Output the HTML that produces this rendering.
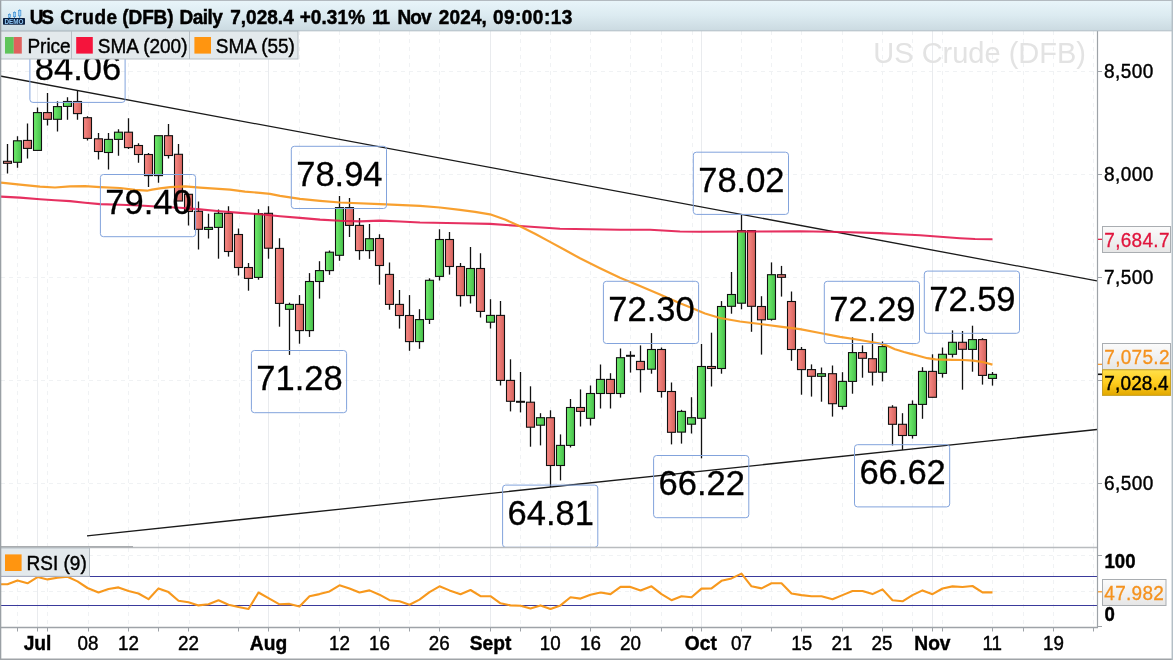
<!DOCTYPE html>
<html lang="en"><head><meta charset="utf-8"><title>US Crude (DFB) Daily</title>
<style>html,body{margin:0;padding:0;background:#fff;overflow:hidden}svg{display:block}</style></head>
<body>
<svg width="1173" height="660" viewBox="0 0 1173 660" font-family='"Liberation Sans", sans-serif'>
<defs>
<linearGradient id="tb" x1="0" y1="0" x2="0" y2="1"><stop offset="0" stop-color="#e9f5fa"/><stop offset="0.5" stop-color="#dcebf1"/><stop offset="1" stop-color="#cbdae1"/></linearGradient>
<linearGradient id="gg" x1="0" y1="0" x2="1" y2="0"><stop offset="0" stop-color="#70ee6c"/><stop offset="1" stop-color="#46bf4b"/></linearGradient>
<linearGradient id="rg" x1="0" y1="0" x2="1" y2="0"><stop offset="0" stop-color="#fa8a86"/><stop offset="1" stop-color="#d4625c"/></linearGradient>
<linearGradient id="gold" x1="0" y1="0" x2="0" y2="1"><stop offset="0" stop-color="#ffe04a"/><stop offset="0.5" stop-color="#ffcd1e"/><stop offset="1" stop-color="#e2a800"/></linearGradient>
<linearGradient id="lb" x1="0" y1="0" x2="0" y2="1"><stop offset="0" stop-color="#fbfbfb"/><stop offset="1" stop-color="#e6e6e6"/></linearGradient>
<clipPath id="main"><rect x="0" y="31" width="1097" height="516.5"/></clipPath>
<clipPath id="rsi"><rect x="0" y="548" width="1097" height="79"/></clipPath>
</defs>
<rect width="1173" height="660" fill="#ffffff"/>
<g stroke="#f0f2f4" stroke-width="1" stroke-dasharray="4 4" fill="none">
<path d="M1 71.5H1097"/>
<path d="M1 174.5H1097"/>
<path d="M1 277.5H1097"/>
<path d="M1 380.5H1097"/>
<path d="M1 483.5H1097"/>
<path d="M17.5 31V547"/><path d="M17.5 548V627"/>
<path d="M47.5 31V547"/><path d="M47.5 548V627"/>
<path d="M692.5 31V547"/><path d="M692.5 548V627"/>
<path d="M1093.5 31V547"/><path d="M1093.5 548V627"/>
<path d="M88.5 31V547"/><path d="M88.5 548V627"/>
<path d="M128.5 31V547"/><path d="M128.5 548V627"/>
<path d="M158.5 31V547"/><path d="M158.5 548V627"/>
<path d="M189.5 31V547"/><path d="M189.5 548V627"/>
<path d="M239.5 31V547"/><path d="M239.5 548V627"/>
<path d="M299.5 31V547"/><path d="M299.5 548V627"/>
<path d="M339.5 31V547"/><path d="M339.5 548V627"/>
<path d="M379.5 31V547"/><path d="M379.5 548V627"/>
<path d="M409.5 31V547"/><path d="M409.5 548V627"/>
<path d="M439.5 31V547"/><path d="M439.5 548V627"/>
<path d="M520.5 31V547"/><path d="M520.5 548V627"/>
<path d="M550.5 31V547"/><path d="M550.5 548V627"/>
<path d="M590.5 31V547"/><path d="M590.5 548V627"/>
<path d="M630.5 31V547"/><path d="M630.5 548V627"/>
<path d="M661.5 31V547"/><path d="M661.5 548V627"/>
<path d="M741.5 31V547"/><path d="M741.5 548V627"/>
<path d="M771.5 31V547"/><path d="M771.5 548V627"/>
<path d="M801.5 31V547"/><path d="M801.5 548V627"/>
<path d="M842.5 31V547"/><path d="M842.5 548V627"/>
<path d="M882.5 31V547"/><path d="M882.5 548V627"/>
<path d="M912.5 31V547"/><path d="M912.5 548V627"/>
<path d="M942.5 31V547"/><path d="M942.5 548V627"/>
<path d="M992.5 31V547"/><path d="M992.5 548V627"/>
<path d="M1023.5 31V547"/><path d="M1023.5 548V627"/>
<path d="M1053.5 31V547"/><path d="M1053.5 548V627"/>
<path d="M1 555.5H1097"/><path d="M1 591.5H1097"/>
</g>
<g stroke="#e9ebee" stroke-width="1" fill="none">
<path d="M37.5 31V547"/><path d="M37.5 548V627"/>
<path d="M268.5 31V547"/><path d="M268.5 548V627"/>
<path d="M490.5 31V547"/><path d="M490.5 548V627"/>
<path d="M701.5 31V547"/><path d="M701.5 548V627"/>
<path d="M932.5 31V547"/><path d="M932.5 548V627"/>
</g>
<text x="1086" y="62.5" font-size="29" fill="#e3e3e3" text-anchor="end">US Crude (DFB)</text>
<g clip-path="url(#main)">
<path d="M0 76L1097 280.8" stroke="#1a1a1a" stroke-width="1.3" fill="none"/>
<path d="M87 535.8L1097 429.5" stroke="#1a1a1a" stroke-width="1.3" fill="none"/>
<path d="M7.5 143.9V173.6" stroke="#111" stroke-width="1.3"/>
<rect x="3.5" y="161.3" width="8" height="2.0" fill="url(#rg)" stroke="#111" stroke-width="1.1"/>
<path d="M17.5 136.3V167.8" stroke="#111" stroke-width="1.3"/>
<rect x="13.5" y="140.8" width="8" height="21.5" fill="url(#gg)" stroke="#111" stroke-width="1.1"/>
<path d="M27.5 123.4V158.6" stroke="#111" stroke-width="1.3"/>
<rect x="23.5" y="140.4" width="8" height="8.0" fill="url(#rg)" stroke="#111" stroke-width="1.1"/>
<path d="M37.5 107.5V150.4" stroke="#111" stroke-width="1.3"/>
<rect x="33.5" y="112.6" width="8" height="37.8" fill="url(#gg)" stroke="#111" stroke-width="1.1"/>
<path d="M47.5 93.1V125.5" stroke="#111" stroke-width="1.3"/>
<rect x="43.5" y="112.6" width="8" height="6.7" fill="url(#rg)" stroke="#111" stroke-width="1.1"/>
<path d="M57.5 101.3V131.6" stroke="#111" stroke-width="1.3"/>
<rect x="53.5" y="106.6" width="8" height="12.7" fill="url(#gg)" stroke="#111" stroke-width="1.1"/>
<path d="M67.5 97.2V119.7" stroke="#111" stroke-width="1.3"/>
<rect x="63.5" y="101.5" width="8" height="4.9" fill="url(#gg)" stroke="#111" stroke-width="1.1"/>
<path d="M77.5 90.7V119.7" stroke="#111" stroke-width="1.3"/>
<rect x="73.5" y="101.5" width="8" height="12.1" fill="url(#rg)" stroke="#111" stroke-width="1.1"/>
<path d="M87.5 116.3V140.4" stroke="#111" stroke-width="1.3"/>
<rect x="83.5" y="117.7" width="8" height="20.7" fill="url(#rg)" stroke="#111" stroke-width="1.1"/>
<path d="M98.5 133.0V159.6" stroke="#111" stroke-width="1.3"/>
<rect x="94.5" y="138.8" width="8" height="12.7" fill="url(#rg)" stroke="#111" stroke-width="1.1"/>
<path d="M108.5 133.0V169.5" stroke="#111" stroke-width="1.3"/>
<rect x="104.5" y="139.4" width="8" height="13.1" fill="url(#gg)" stroke="#111" stroke-width="1.1"/>
<path d="M118.5 129.2V155.8" stroke="#111" stroke-width="1.3"/>
<rect x="114.5" y="132.2" width="8" height="7.2" fill="url(#gg)" stroke="#111" stroke-width="1.1"/>
<path d="M128.5 118.3V149.0" stroke="#111" stroke-width="1.3"/>
<rect x="124.5" y="132.2" width="8" height="15.4" fill="url(#rg)" stroke="#111" stroke-width="1.1"/>
<path d="M138.5 143.3V162.7" stroke="#111" stroke-width="1.3"/>
<rect x="134.5" y="145.5" width="8" height="9.0" fill="url(#rg)" stroke="#111" stroke-width="1.1"/>
<path d="M148.5 153.1V186.9" stroke="#111" stroke-width="1.3"/>
<rect x="144.5" y="154.5" width="8" height="21.1" fill="url(#rg)" stroke="#111" stroke-width="1.1"/>
<path d="M158.5 135.7V182.8" stroke="#111" stroke-width="1.3"/>
<rect x="154.5" y="135.7" width="8" height="39.9" fill="url(#gg)" stroke="#111" stroke-width="1.1"/>
<path d="M168.5 124.0V158.6" stroke="#111" stroke-width="1.3"/>
<rect x="164.5" y="135.7" width="8" height="19.8" fill="url(#rg)" stroke="#111" stroke-width="1.1"/>
<path d="M178.5 143.9V201.0" stroke="#111" stroke-width="1.3"/>
<rect x="174.5" y="154.3" width="8" height="46.7" fill="url(#rg)" stroke="#111" stroke-width="1.1"/>
<path d="M188.5 194.3V225.4" stroke="#111" stroke-width="1.3"/>
<rect x="184.5" y="194.3" width="8" height="17.2" fill="url(#rg)" stroke="#111" stroke-width="1.1"/>
<path d="M198.5 201.4V249.5" stroke="#111" stroke-width="1.3"/>
<rect x="194.5" y="211.3" width="8" height="18.0" fill="url(#rg)" stroke="#111" stroke-width="1.1"/>
<path d="M208.5 213.7V238.5" stroke="#111" stroke-width="1.3"/>
<rect x="204.5" y="227.4" width="8" height="2.0" fill="url(#gg)" stroke="#111" stroke-width="1.1"/>
<path d="M218.5 209.6V258.7" stroke="#111" stroke-width="1.3"/>
<rect x="214.5" y="213.3" width="8" height="14.1" fill="url(#gg)" stroke="#111" stroke-width="1.1"/>
<path d="M228.5 206.3V256.6" stroke="#111" stroke-width="1.3"/>
<rect x="224.5" y="213.3" width="8" height="38.2" fill="url(#rg)" stroke="#111" stroke-width="1.1"/>
<path d="M238.5 228.4V275.5" stroke="#111" stroke-width="1.3"/>
<rect x="234.5" y="234.5" width="8" height="33.0" fill="url(#rg)" stroke="#111" stroke-width="1.1"/>
<path d="M248.5 263.0V290.7" stroke="#111" stroke-width="1.3"/>
<rect x="244.5" y="267.5" width="8" height="10.9" fill="url(#rg)" stroke="#111" stroke-width="1.1"/>
<path d="M258.5 209.2V279.7" stroke="#111" stroke-width="1.3"/>
<rect x="254.5" y="213.7" width="8" height="63.7" fill="url(#gg)" stroke="#111" stroke-width="1.1"/>
<path d="M268.5 206.3V258.7" stroke="#111" stroke-width="1.3"/>
<rect x="264.5" y="213.3" width="8" height="34.9" fill="url(#rg)" stroke="#111" stroke-width="1.1"/>
<path d="M279.5 238.2V326.7" stroke="#111" stroke-width="1.3"/>
<rect x="275.5" y="248.4" width="8" height="55.0" fill="url(#rg)" stroke="#111" stroke-width="1.1"/>
<path d="M289.5 302.7V354.9" stroke="#111" stroke-width="1.3"/>
<rect x="285.5" y="304.4" width="8" height="4.9" fill="url(#gg)" stroke="#111" stroke-width="1.1"/>
<path d="M299.5 295.1V343.7" stroke="#111" stroke-width="1.3"/>
<rect x="295.5" y="304.4" width="8" height="26.2" fill="url(#rg)" stroke="#111" stroke-width="1.1"/>
<path d="M309.5 273.1V336.9" stroke="#111" stroke-width="1.3"/>
<rect x="305.5" y="281.5" width="8" height="49.1" fill="url(#gg)" stroke="#111" stroke-width="1.1"/>
<path d="M319.5 261.2V298.6" stroke="#111" stroke-width="1.3"/>
<rect x="315.5" y="270.6" width="8" height="10.9" fill="url(#gg)" stroke="#111" stroke-width="1.1"/>
<path d="M329.5 250.6V274.8" stroke="#111" stroke-width="1.3"/>
<rect x="325.5" y="252.2" width="8" height="18.4" fill="url(#gg)" stroke="#111" stroke-width="1.1"/>
<path d="M339.5 196.0V260.8" stroke="#111" stroke-width="1.3"/>
<rect x="335.5" y="207.6" width="8" height="47.7" fill="url(#gg)" stroke="#111" stroke-width="1.1"/>
<path d="M349.5 198.0V236.9" stroke="#111" stroke-width="1.3"/>
<rect x="345.5" y="207.6" width="8" height="17.8" fill="url(#rg)" stroke="#111" stroke-width="1.1"/>
<path d="M359.5 217.9V259.8" stroke="#111" stroke-width="1.3"/>
<rect x="355.5" y="225.4" width="8" height="25.2" fill="url(#rg)" stroke="#111" stroke-width="1.1"/>
<path d="M369.5 224.0V258.8" stroke="#111" stroke-width="1.3"/>
<rect x="365.5" y="238.7" width="8" height="11.9" fill="url(#gg)" stroke="#111" stroke-width="1.1"/>
<path d="M379.5 234.2V284.7" stroke="#111" stroke-width="1.3"/>
<rect x="375.5" y="238.5" width="8" height="27.0" fill="url(#rg)" stroke="#111" stroke-width="1.1"/>
<path d="M389.5 262.5V309.7" stroke="#111" stroke-width="1.3"/>
<rect x="385.5" y="274.4" width="8" height="30.0" fill="url(#rg)" stroke="#111" stroke-width="1.1"/>
<path d="M399.5 290.0V328.6" stroke="#111" stroke-width="1.3"/>
<rect x="395.5" y="304.4" width="8" height="11.1" fill="url(#rg)" stroke="#111" stroke-width="1.1"/>
<path d="M409.5 295.1V350.8" stroke="#111" stroke-width="1.3"/>
<rect x="405.5" y="315.5" width="8" height="26.1" fill="url(#rg)" stroke="#111" stroke-width="1.1"/>
<path d="M419.5 309.2V348.8" stroke="#111" stroke-width="1.3"/>
<rect x="415.5" y="319.6" width="8" height="22.0" fill="url(#gg)" stroke="#111" stroke-width="1.1"/>
<path d="M429.5 278.3V324.0" stroke="#111" stroke-width="1.3"/>
<rect x="425.5" y="280.3" width="8" height="39.1" fill="url(#gg)" stroke="#111" stroke-width="1.1"/>
<path d="M439.5 229.3V280.5" stroke="#111" stroke-width="1.3"/>
<rect x="435.5" y="239.5" width="8" height="36.9" fill="url(#gg)" stroke="#111" stroke-width="1.1"/>
<path d="M449.5 232.1V274.6" stroke="#111" stroke-width="1.3"/>
<rect x="445.5" y="239.5" width="8" height="27.0" fill="url(#rg)" stroke="#111" stroke-width="1.1"/>
<path d="M460.5 263.0V306.6" stroke="#111" stroke-width="1.3"/>
<rect x="456.5" y="266.5" width="8" height="29.1" fill="url(#rg)" stroke="#111" stroke-width="1.1"/>
<path d="M470.5 247.1V303.5" stroke="#111" stroke-width="1.3"/>
<rect x="466.5" y="268.5" width="8" height="27.1" fill="url(#gg)" stroke="#111" stroke-width="1.1"/>
<path d="M480.5 253.2V317.5" stroke="#111" stroke-width="1.3"/>
<rect x="476.5" y="268.5" width="8" height="42.9" fill="url(#rg)" stroke="#111" stroke-width="1.1"/>
<path d="M490.5 299.2V328.5" stroke="#111" stroke-width="1.3"/>
<rect x="486.5" y="315.4" width="8" height="6.8" fill="url(#gg)" stroke="#111" stroke-width="1.1"/>
<path d="M500.5 301.0V385.5" stroke="#111" stroke-width="1.3"/>
<rect x="496.5" y="315.4" width="8" height="65.0" fill="url(#rg)" stroke="#111" stroke-width="1.1"/>
<path d="M510.5 359.3V411.4" stroke="#111" stroke-width="1.3"/>
<rect x="506.5" y="380.4" width="8" height="20.9" fill="url(#rg)" stroke="#111" stroke-width="1.1"/>
<path d="M520.5 372.0V412.4" stroke="#111" stroke-width="1.3"/>
<path d="M516.0 401.8H525.0" stroke="#111" stroke-width="2"/>
<path d="M530.5 386.3V446.7" stroke="#111" stroke-width="1.3"/>
<rect x="526.5" y="402.2" width="8" height="25.0" fill="url(#rg)" stroke="#111" stroke-width="1.1"/>
<path d="M540.5 413.2V445.4" stroke="#111" stroke-width="1.3"/>
<rect x="536.5" y="417.7" width="8" height="7.5" fill="url(#gg)" stroke="#111" stroke-width="1.1"/>
<path d="M550.5 410.3V487.0" stroke="#111" stroke-width="1.3"/>
<rect x="546.5" y="417.7" width="8" height="47.8" fill="url(#rg)" stroke="#111" stroke-width="1.1"/>
<path d="M560.5 434.4V480.4" stroke="#111" stroke-width="1.3"/>
<rect x="556.5" y="445.4" width="8" height="20.1" fill="url(#gg)" stroke="#111" stroke-width="1.1"/>
<path d="M570.5 399.0V447.5" stroke="#111" stroke-width="1.3"/>
<rect x="566.5" y="407.5" width="8" height="37.9" fill="url(#gg)" stroke="#111" stroke-width="1.1"/>
<path d="M580.5 389.4V426.5" stroke="#111" stroke-width="1.3"/>
<rect x="576.5" y="407.5" width="8" height="3.9" fill="url(#rg)" stroke="#111" stroke-width="1.1"/>
<path d="M590.5 385.5V425.5" stroke="#111" stroke-width="1.3"/>
<rect x="586.5" y="393.5" width="8" height="24.8" fill="url(#gg)" stroke="#111" stroke-width="1.1"/>
<path d="M600.5 364.5V408.5" stroke="#111" stroke-width="1.3"/>
<rect x="596.5" y="379.4" width="8" height="14.1" fill="url(#gg)" stroke="#111" stroke-width="1.1"/>
<path d="M610.5 373.2V408.5" stroke="#111" stroke-width="1.3"/>
<rect x="606.5" y="379.4" width="8" height="14.1" fill="url(#rg)" stroke="#111" stroke-width="1.1"/>
<path d="M620.5 348.5V397.6" stroke="#111" stroke-width="1.3"/>
<rect x="616.5" y="357.7" width="8" height="35.8" fill="url(#gg)" stroke="#111" stroke-width="1.1"/>
<path d="M630.5 351.2V372.6" stroke="#111" stroke-width="1.3"/>
<path d="M626.0 355.8H635.0" stroke="#111" stroke-width="2"/>
<path d="M640.5 345.4V392.5" stroke="#111" stroke-width="1.3"/>
<rect x="636.5" y="361.4" width="8" height="8.2" fill="url(#rg)" stroke="#111" stroke-width="1.1"/>
<path d="M651.5 333.1V373.7" stroke="#111" stroke-width="1.3"/>
<rect x="647.5" y="349.5" width="8" height="19.7" fill="url(#gg)" stroke="#111" stroke-width="1.1"/>
<path d="M661.5 347.5V397.6" stroke="#111" stroke-width="1.3"/>
<rect x="657.5" y="349.5" width="8" height="42.0" fill="url(#rg)" stroke="#111" stroke-width="1.1"/>
<path d="M671.5 382.5V444.4" stroke="#111" stroke-width="1.3"/>
<rect x="667.5" y="391.5" width="8" height="40.8" fill="url(#rg)" stroke="#111" stroke-width="1.1"/>
<path d="M681.5 409.8V443.6" stroke="#111" stroke-width="1.3"/>
<rect x="677.5" y="411.4" width="8" height="20.7" fill="url(#gg)" stroke="#111" stroke-width="1.1"/>
<path d="M691.5 397.2V433.5" stroke="#111" stroke-width="1.3"/>
<rect x="687.5" y="417.7" width="8" height="6.5" fill="url(#gg)" stroke="#111" stroke-width="1.1"/>
<path d="M701.5 344.0V458.3" stroke="#111" stroke-width="1.3"/>
<rect x="697.5" y="366.5" width="8" height="51.8" fill="url(#gg)" stroke="#111" stroke-width="1.1"/>
<path d="M711.5 332.7V386.5" stroke="#111" stroke-width="1.3"/>
<rect x="707.5" y="366.5" width="8" height="2.0" fill="url(#rg)" stroke="#111" stroke-width="1.1"/>
<path d="M721.5 301.1V373.7" stroke="#111" stroke-width="1.3"/>
<rect x="717.5" y="306.5" width="8" height="62.0" fill="url(#gg)" stroke="#111" stroke-width="1.1"/>
<path d="M731.5 272.0V313.7" stroke="#111" stroke-width="1.3"/>
<rect x="727.5" y="294.5" width="8" height="11.8" fill="url(#gg)" stroke="#111" stroke-width="1.1"/>
<path d="M741.5 214.7V309.3" stroke="#111" stroke-width="1.3"/>
<rect x="737.5" y="230.7" width="8" height="72.5" fill="url(#gg)" stroke="#111" stroke-width="1.1"/>
<path d="M751.5 230.7V331.8" stroke="#111" stroke-width="1.3"/>
<rect x="747.5" y="230.7" width="8" height="75.6" fill="url(#rg)" stroke="#111" stroke-width="1.1"/>
<path d="M761.5 296.2V354.6" stroke="#111" stroke-width="1.3"/>
<rect x="757.5" y="306.5" width="8" height="13.3" fill="url(#rg)" stroke="#111" stroke-width="1.1"/>
<path d="M771.5 262.4V320.7" stroke="#111" stroke-width="1.3"/>
<rect x="767.5" y="274.7" width="8" height="44.6" fill="url(#gg)" stroke="#111" stroke-width="1.1"/>
<path d="M781.5 265.9V296.6" stroke="#111" stroke-width="1.3"/>
<rect x="777.5" y="274.7" width="8" height="2.6" fill="url(#rg)" stroke="#111" stroke-width="1.1"/>
<path d="M791.5 291.5V360.8" stroke="#111" stroke-width="1.3"/>
<rect x="787.5" y="301.5" width="8" height="48.0" fill="url(#rg)" stroke="#111" stroke-width="1.1"/>
<path d="M801.5 347.0V394.7" stroke="#111" stroke-width="1.3"/>
<rect x="797.5" y="349.5" width="8" height="20.1" fill="url(#rg)" stroke="#111" stroke-width="1.1"/>
<path d="M811.5 364.4V396.6" stroke="#111" stroke-width="1.3"/>
<rect x="807.5" y="369.6" width="8" height="6.7" fill="url(#rg)" stroke="#111" stroke-width="1.1"/>
<path d="M821.5 367.5V401.7" stroke="#111" stroke-width="1.3"/>
<rect x="817.5" y="373.7" width="8" height="2.6" fill="url(#gg)" stroke="#111" stroke-width="1.1"/>
<path d="M832.5 365.5V416.6" stroke="#111" stroke-width="1.3"/>
<rect x="828.5" y="373.7" width="8" height="30.0" fill="url(#rg)" stroke="#111" stroke-width="1.1"/>
<path d="M842.5 372.2V409.5" stroke="#111" stroke-width="1.3"/>
<rect x="838.5" y="381.4" width="8" height="25.0" fill="url(#gg)" stroke="#111" stroke-width="1.1"/>
<path d="M852.5 337.4V393.7" stroke="#111" stroke-width="1.3"/>
<rect x="848.5" y="352.6" width="8" height="28.8" fill="url(#gg)" stroke="#111" stroke-width="1.1"/>
<path d="M862.5 345.4V377.7" stroke="#111" stroke-width="1.3"/>
<rect x="858.5" y="352.6" width="8" height="5.7" fill="url(#rg)" stroke="#111" stroke-width="1.1"/>
<path d="M872.5 333.1V385.5" stroke="#111" stroke-width="1.3"/>
<rect x="868.5" y="358.7" width="8" height="13.5" fill="url(#rg)" stroke="#111" stroke-width="1.1"/>
<path d="M882.5 341.5V381.4" stroke="#111" stroke-width="1.3"/>
<rect x="878.5" y="346.6" width="8" height="25.6" fill="url(#gg)" stroke="#111" stroke-width="1.1"/>
<path d="M892.5 405.2V445.4" stroke="#111" stroke-width="1.3"/>
<rect x="888.5" y="407.2" width="8" height="17.1" fill="url(#rg)" stroke="#111" stroke-width="1.1"/>
<path d="M902.5 413.2V449.9" stroke="#111" stroke-width="1.3"/>
<rect x="898.5" y="424.3" width="8" height="11.2" fill="url(#rg)" stroke="#111" stroke-width="1.1"/>
<path d="M912.5 400.4V438.6" stroke="#111" stroke-width="1.3"/>
<rect x="908.5" y="404.4" width="8" height="31.1" fill="url(#gg)" stroke="#111" stroke-width="1.1"/>
<path d="M922.5 367.2V418.8" stroke="#111" stroke-width="1.3"/>
<rect x="918.5" y="371.4" width="8" height="33.0" fill="url(#gg)" stroke="#111" stroke-width="1.1"/>
<path d="M932.5 354.3V397.3" stroke="#111" stroke-width="1.3"/>
<rect x="928.5" y="371.4" width="8" height="25.9" fill="url(#rg)" stroke="#111" stroke-width="1.1"/>
<path d="M942.5 347.5V377.6" stroke="#111" stroke-width="1.3"/>
<rect x="938.5" y="354.3" width="8" height="19.1" fill="url(#gg)" stroke="#111" stroke-width="1.1"/>
<path d="M952.5 330.4V357.5" stroke="#111" stroke-width="1.3"/>
<rect x="948.5" y="342.3" width="8" height="12.0" fill="url(#gg)" stroke="#111" stroke-width="1.1"/>
<path d="M962.5 331.0V389.7" stroke="#111" stroke-width="1.3"/>
<rect x="958.5" y="342.3" width="8" height="7.0" fill="url(#rg)" stroke="#111" stroke-width="1.1"/>
<path d="M972.5 325.7V371.7" stroke="#111" stroke-width="1.3"/>
<rect x="968.5" y="339.6" width="8" height="9.8" fill="url(#gg)" stroke="#111" stroke-width="1.1"/>
<path d="M982.5 338.1V384.6" stroke="#111" stroke-width="1.3"/>
<rect x="978.5" y="339.6" width="8" height="35.8" fill="url(#rg)" stroke="#111" stroke-width="1.1"/>
<path d="M992.5 372.0V385.6" stroke="#111" stroke-width="1.3"/>
<rect x="988.5" y="374.4" width="8" height="4.0" fill="url(#gg)" stroke="#111" stroke-width="1.1"/>
<polyline points="1.0,196.6 20.0,197.6 40.0,199.3 55.0,200.3 70.0,201.1 85.0,202.7 100.0,204.1 120.0,204.8 140.0,205.5 160.0,206.8 180.0,207.8 200.0,209.4 220.0,211.2 240.0,212.9 260.0,214.3 280.0,216.2 300.0,217.9 320.0,219.6 340.0,220.8 360.0,221.4 380.0,220.6 400.0,221.5 420.0,222.5 460.0,223.3 490.0,223.9 520.0,226.0 560.0,228.7 620.0,229.7 650.0,229.8 680.0,231.5 700.0,231.7 760.0,231.5 800.0,231.3 840.0,232.0 880.0,233.1 900.0,234.2 920.0,235.3 940.0,236.8 960.0,238.2 975.0,239.0 992.5,239.3" fill="none" stroke="#e3134a" stroke-width="2.1" stroke-linejoin="round" opacity="0.88"/>
<polyline points="1.0,182.6 20.0,184.7 40.0,186.6 55.0,187.5 70.0,186.4 85.0,186.1 100.0,187.1 120.0,188.0 135.0,189.8 147.0,190.7 152.0,189.6 160.0,188.3 170.0,187.1 185.0,186.3 200.0,187.6 215.0,188.6 230.0,189.7 245.0,191.7 260.0,192.8 270.0,193.8 280.0,195.8 300.0,198.8 320.0,200.8 340.0,202.5 380.0,204.1 420.0,205.9 440.0,207.5 460.0,209.8 475.0,211.8 490.0,214.3 505.0,219.5 520.0,226.2 535.0,233.8 550.0,241.9 565.0,250.0 580.0,258.3 600.0,268.2 620.0,277.7 640.0,286.0 660.0,294.5 680.0,303.3 690.0,307.2 705.0,313.5 720.0,318.0 740.0,321.5 760.0,324.0 780.0,326.6 800.0,329.2 820.0,333.0 840.0,336.8 860.0,340.0 880.0,343.6 886.0,345.2 890.0,347.0 895.0,349.3 900.0,350.8 904.0,352.0 910.0,353.6 916.4,355.2 927.3,358.2 935.5,359.4 942.0,359.6 952.8,359.8 963.0,360.0 973.2,360.6 983.5,362.2 992.5,364.6" fill="none" stroke="#f7981d" stroke-width="2.2" stroke-linejoin="round" opacity="0.92"/>
<rect x="29.9" y="40.2" width="95.2" height="62.2" rx="3" fill="none" stroke="#82a3dc" stroke-width="1"/>
<text transform="translate(78.0 79.7) scale(1 1.04)" font-size="34.5" fill="#000" text-anchor="middle" stroke="#000" stroke-width="0.3">84.06</text>
<rect x="100.4" y="174.5" width="95.2" height="62.2" rx="3" fill="none" stroke="#82a3dc" stroke-width="1"/>
<text transform="translate(148.5 214.0) scale(1 1.04)" font-size="34.5" fill="#000" text-anchor="middle" stroke="#000" stroke-width="0.3">79.40</text>
<rect x="291.3" y="146.3" width="95.2" height="62.2" rx="3" fill="none" stroke="#82a3dc" stroke-width="1"/>
<text transform="translate(339.4 185.8) scale(1 1.04)" font-size="34.5" fill="#000" text-anchor="middle" stroke="#000" stroke-width="0.3">78.94</text>
<rect x="251.4" y="350.5" width="95.2" height="62.2" rx="3" fill="none" stroke="#82a3dc" stroke-width="1"/>
<text transform="translate(299.5 390.0) scale(1 1.04)" font-size="34.5" fill="#000" text-anchor="middle" stroke="#000" stroke-width="0.3">71.28</text>
<rect x="603.4" y="281.3" width="95.2" height="62.2" rx="3" fill="none" stroke="#82a3dc" stroke-width="1"/>
<text transform="translate(651.5 320.8) scale(1 1.04)" font-size="34.5" fill="#000" text-anchor="middle" stroke="#000" stroke-width="0.3">72.30</text>
<rect x="502.6" y="485.1" width="95.2" height="62.2" rx="3" fill="none" stroke="#82a3dc" stroke-width="1"/>
<text transform="translate(550.7 524.6) scale(1 1.04)" font-size="34.5" fill="#000" text-anchor="middle" stroke="#000" stroke-width="0.3">64.81</text>
<rect x="653.6" y="455.5" width="95.2" height="62.2" rx="3" fill="none" stroke="#82a3dc" stroke-width="1"/>
<text transform="translate(701.7 495.0) scale(1 1.04)" font-size="34.5" fill="#000" text-anchor="middle" stroke="#000" stroke-width="0.3">66.22</text>
<rect x="693.3" y="152.2" width="95.2" height="62.2" rx="3" fill="none" stroke="#82a3dc" stroke-width="1"/>
<text transform="translate(741.4 191.7) scale(1 1.04)" font-size="34.5" fill="#000" text-anchor="middle" stroke="#000" stroke-width="0.3">78.02</text>
<rect x="824.3" y="281.3" width="95.2" height="62.2" rx="3" fill="none" stroke="#82a3dc" stroke-width="1"/>
<text transform="translate(872.4 320.8) scale(1 1.04)" font-size="34.5" fill="#000" text-anchor="middle" stroke="#000" stroke-width="0.3">72.29</text>
<rect x="924.3" y="271.1" width="95.2" height="62.2" rx="3" fill="none" stroke="#82a3dc" stroke-width="1"/>
<text transform="translate(972.4 310.6) scale(1 1.04)" font-size="34.5" fill="#000" text-anchor="middle" stroke="#000" stroke-width="0.3">72.59</text>
<rect x="854.5" y="444.7" width="95.2" height="62.2" rx="3" fill="none" stroke="#82a3dc" stroke-width="1"/>
<text transform="translate(902.6 484.2) scale(1 1.04)" font-size="34.5" fill="#000" text-anchor="middle" stroke="#000" stroke-width="0.3">66.62</text>
</g>
<path d="M0 576.5H1097M0 605.5H1097" stroke="#3a3a9c" stroke-width="1.15" fill="none"/>
<g clip-path="url(#rsi)"><polyline points="0.0,584.3 7.5,584.3 17.5,580.4 27.5,583.3 37.5,577.1 47.5,579.4 57.5,577.7 67.5,576.7 77.5,581.4 87.5,588.0 98.5,592.5 108.5,589.0 118.5,587.4 128.5,591.0 138.5,593.5 148.5,599.2 158.5,588.4 168.5,592.1 178.5,600.7 188.5,602.3 198.5,605.4 208.5,604.3 218.5,600.2 228.5,604.7 238.5,607.0 248.5,609.0 258.5,592.5 268.5,598.2 279.5,604.3 289.5,603.9 299.5,606.4 309.5,596.2 319.5,594.1 329.5,591.4 339.5,585.3 349.5,588.6 359.5,592.5 369.5,590.4 379.5,594.7 389.5,600.2 399.5,601.3 409.5,604.7 419.5,599.6 429.5,592.1 439.5,586.3 449.5,590.4 460.5,594.3 470.5,590.0 480.5,596.2 490.5,596.2 500.5,603.3 510.5,605.4 520.5,605.8 530.5,608.4 540.5,605.4 550.5,609.0 560.5,605.4 570.5,597.2 580.5,598.6 590.5,594.7 600.5,592.5 610.5,594.1 620.5,586.9 630.5,586.9 640.5,590.4 651.5,586.3 661.5,594.1 671.5,600.2 681.5,596.2 691.5,597.2 701.5,588.6 711.5,588.4 721.5,580.8 731.5,578.4 741.5,573.6 751.5,586.3 761.5,588.4 771.5,583.3 781.5,583.3 791.5,593.5 801.5,595.1 811.5,596.2 821.5,596.2 832.5,599.2 842.5,595.1 852.5,591.0 862.5,591.0 872.5,594.1 882.5,589.4 892.5,600.2 902.5,601.3 912.5,595.1 922.5,590.4 932.5,594.2 942.5,588.5 952.5,586.4 962.5,587.0 972.5,586.0 982.5,592.4 992.5,592.4" fill="none" stroke="#f7981d" stroke-width="2.1" stroke-linejoin="round"/></g>
<path d="M0 547.5H1097" stroke="#b9bcbf" stroke-width="1.4"/>
<path d="M0 546.7H133" stroke="#a9acaf" stroke-width="1.6"/>
<path d="M1097.5 31V627.5" stroke="#9ea3a8" stroke-width="1.2"/>
<path d="M0 627.5H1098" stroke="#9ea3a8" stroke-width="1.3"/>
<path d="M1098 71.5H1102" stroke="#9ea3a8" stroke-width="1"/>
<path d="M1098 174.5H1102" stroke="#9ea3a8" stroke-width="1"/>
<path d="M1098 277.5H1102" stroke="#9ea3a8" stroke-width="1"/>
<path d="M1098 380.5H1102" stroke="#9ea3a8" stroke-width="1"/>
<path d="M1098 483.5H1102" stroke="#9ea3a8" stroke-width="1"/>
<text transform="translate(1104.0 78.1) scale(1 1.06)" font-size="19" fill="#000" letter-spacing="0.45" stroke="#000" stroke-width="0.4">8,500</text>
<text transform="translate(1104.0 181.1) scale(1 1.06)" font-size="19" fill="#000" letter-spacing="0.45" stroke="#000" stroke-width="0.4">8,000</text>
<text transform="translate(1104.0 284.1) scale(1 1.06)" font-size="19" fill="#000" letter-spacing="0.45" stroke="#000" stroke-width="0.4">7,500</text>
<text transform="translate(1104.0 490.2) scale(1 1.06)" font-size="19" fill="#000" letter-spacing="0.45" stroke="#000" stroke-width="0.4">6,500</text>
<path d="M17.5 628V631.5" stroke="#9ea3a8" stroke-width="1"/>
<path d="M37.5 628V631.5" stroke="#9ea3a8" stroke-width="1"/>
<path d="M47.5 628V631.5" stroke="#9ea3a8" stroke-width="1"/>
<path d="M88.5 628V631.5" stroke="#9ea3a8" stroke-width="1"/>
<path d="M128.5 628V631.5" stroke="#9ea3a8" stroke-width="1"/>
<path d="M158.5 628V631.5" stroke="#9ea3a8" stroke-width="1"/>
<path d="M188.5 628V631.5" stroke="#9ea3a8" stroke-width="1"/>
<path d="M238.5 628V631.5" stroke="#9ea3a8" stroke-width="1"/>
<path d="M268.5 628V631.5" stroke="#9ea3a8" stroke-width="1"/>
<path d="M299.5 628V631.5" stroke="#9ea3a8" stroke-width="1"/>
<path d="M339.5 628V631.5" stroke="#9ea3a8" stroke-width="1"/>
<path d="M379.5 628V631.5" stroke="#9ea3a8" stroke-width="1"/>
<path d="M409.5 628V631.5" stroke="#9ea3a8" stroke-width="1"/>
<path d="M439.5 628V631.5" stroke="#9ea3a8" stroke-width="1"/>
<path d="M490.5 628V631.5" stroke="#9ea3a8" stroke-width="1"/>
<path d="M520.5 628V631.5" stroke="#9ea3a8" stroke-width="1"/>
<path d="M550.5 628V631.5" stroke="#9ea3a8" stroke-width="1"/>
<path d="M590.5 628V631.5" stroke="#9ea3a8" stroke-width="1"/>
<path d="M630.5 628V631.5" stroke="#9ea3a8" stroke-width="1"/>
<path d="M661.5 628V631.5" stroke="#9ea3a8" stroke-width="1"/>
<path d="M692.5 628V631.5" stroke="#9ea3a8" stroke-width="1"/>
<path d="M701.5 628V631.5" stroke="#9ea3a8" stroke-width="1"/>
<path d="M741.5 628V631.5" stroke="#9ea3a8" stroke-width="1"/>
<path d="M771.5 628V631.5" stroke="#9ea3a8" stroke-width="1"/>
<path d="M801.5 628V631.5" stroke="#9ea3a8" stroke-width="1"/>
<path d="M842.5 628V631.5" stroke="#9ea3a8" stroke-width="1"/>
<path d="M882.5 628V631.5" stroke="#9ea3a8" stroke-width="1"/>
<path d="M912.5 628V631.5" stroke="#9ea3a8" stroke-width="1"/>
<path d="M932.5 628V631.5" stroke="#9ea3a8" stroke-width="1"/>
<path d="M942.5 628V631.5" stroke="#9ea3a8" stroke-width="1"/>
<path d="M992.5 628V631.5" stroke="#9ea3a8" stroke-width="1"/>
<path d="M1023.5 628V631.5" stroke="#9ea3a8" stroke-width="1"/>
<path d="M1053.5 628V631.5" stroke="#9ea3a8" stroke-width="1"/>
<path d="M1093.5 628V631.5" stroke="#9ea3a8" stroke-width="1"/>
<text transform="translate(37.5 650.3) scale(1 1.06)" font-size="19.2" fill="#000" font-weight="bold" text-anchor="middle" stroke="#000" stroke-width="0.4">Jul</text>
<text transform="translate(88.0 650.3) scale(1 1.06)" font-size="18.8" fill="#000" text-anchor="middle" stroke="#000" stroke-width="0.4">08</text>
<text transform="translate(128.5 650.3) scale(1 1.06)" font-size="18.8" fill="#000" text-anchor="middle" stroke="#000" stroke-width="0.4">12</text>
<text transform="translate(188.5 650.3) scale(1 1.06)" font-size="18.8" fill="#000" text-anchor="middle" stroke="#000" stroke-width="0.4">22</text>
<text transform="translate(268.5 650.3) scale(1 1.06)" font-size="19.2" fill="#000" font-weight="bold" text-anchor="middle" stroke="#000" stroke-width="0.4">Aug</text>
<text transform="translate(339.5 650.3) scale(1 1.06)" font-size="18.8" fill="#000" text-anchor="middle" stroke="#000" stroke-width="0.4">12</text>
<text transform="translate(379.5 650.3) scale(1 1.06)" font-size="18.8" fill="#000" text-anchor="middle" stroke="#000" stroke-width="0.4">16</text>
<text transform="translate(439.2 650.3) scale(1 1.06)" font-size="18.8" fill="#000" text-anchor="middle" stroke="#000" stroke-width="0.4">26</text>
<text transform="translate(490.5 650.3) scale(1 1.06)" font-size="19.2" fill="#000" font-weight="bold" text-anchor="middle" stroke="#000" stroke-width="0.4">Sept</text>
<text transform="translate(550.3 650.3) scale(1 1.06)" font-size="18.8" fill="#000" text-anchor="middle" stroke="#000" stroke-width="0.4">10</text>
<text transform="translate(590.5 650.3) scale(1 1.06)" font-size="18.8" fill="#000" text-anchor="middle" stroke="#000" stroke-width="0.4">16</text>
<text transform="translate(630.4 650.3) scale(1 1.06)" font-size="18.8" fill="#000" text-anchor="middle" stroke="#000" stroke-width="0.4">20</text>
<text transform="translate(700.8 650.3) scale(1 1.06)" font-size="19.2" fill="#000" font-weight="bold" text-anchor="middle" stroke="#000" stroke-width="0.4">Oct</text>
<text transform="translate(741.5 650.3) scale(1 1.06)" font-size="18.8" fill="#000" text-anchor="middle" stroke="#000" stroke-width="0.4">07</text>
<text transform="translate(801.8 650.3) scale(1 1.06)" font-size="18.8" fill="#000" text-anchor="middle" stroke="#000" stroke-width="0.4">15</text>
<text transform="translate(842.0 650.3) scale(1 1.06)" font-size="18.8" fill="#000" text-anchor="middle" stroke="#000" stroke-width="0.4">21</text>
<text transform="translate(882.0 650.3) scale(1 1.06)" font-size="18.8" fill="#000" text-anchor="middle" stroke="#000" stroke-width="0.4">25</text>
<text transform="translate(932.4 650.3) scale(1 1.06)" font-size="19.2" fill="#000" font-weight="bold" text-anchor="middle" stroke="#000" stroke-width="0.4">Nov</text>
<text transform="translate(992.2 650.3) scale(1 1.06)" font-size="18.8" fill="#000" text-anchor="middle" stroke="#000" stroke-width="0.4">11</text>
<text transform="translate(1053.5 650.3) scale(1 1.06)" font-size="18.8" fill="#000" text-anchor="middle" stroke="#000" stroke-width="0.4">19</text>
<path d="M1098 555.5H1102M1098 626.5H1102" stroke="#9ea3a8" stroke-width="1"/>
<text transform="translate(1104.5 568.0) scale(1 1.06)" font-size="18.6" fill="#000" font-weight="bold" stroke="#000" stroke-width="0.4">100</text>
<text transform="translate(1104.5 621.0) scale(1 1.06)" font-size="18.6" fill="#000" font-weight="bold" stroke="#000" stroke-width="0.4">0</text>
<path d="M1098 239.3H1103" stroke="#e0143c" stroke-width="1.2"/>
<rect x="1102.5" y="226.5" width="68.0" height="26.0" fill="url(#lb)" stroke="#a9adb1" stroke-width="1"/>
<text transform="translate(1104.3 246.5) scale(1 1.06)" font-size="19" fill="#e0143c" letter-spacing="0.3" stroke="#e0143c" stroke-width="0.3">7,684.7</text>
<path d="M1098 364.3H1103" stroke="#f5921e" stroke-width="1.2"/>
<rect x="1102.5" y="343.5" width="68.0" height="26.5" fill="url(#lb)" stroke="#a9adb1" stroke-width="1"/>
<text transform="translate(1104.3 363.8) scale(1 1.06)" font-size="19" fill="#f5921e" letter-spacing="0.3" stroke="#f5921e" stroke-width="0.3">7,075.2</text>
<path d="M1098 374.3H1103" stroke="#111" stroke-width="1.6"/>
<rect x="1102.5" y="369.8" width="68" height="25.6" fill="url(#gold)" stroke="#c9a227" stroke-width="1"/>
<text transform="translate(1104.3 389.7) scale(1 1.06)" font-size="19" fill="#000" letter-spacing="0.15" stroke="#000" stroke-width="0.4">7,028.4</text>
<path d="M1098 591.8H1103" stroke="#f5921e" stroke-width="1.2"/>
<rect x="1102.5" y="579.5" width="63.5" height="26.0" fill="url(#lb)" stroke="#a9adb1" stroke-width="1"/>
<text transform="translate(1104.3 599.5) scale(1 1.06)" font-size="19" fill="#f5921e" letter-spacing="0.3" stroke="#f5921e" stroke-width="0.3">47.982</text>
<rect x="0.5" y="31" width="297.5" height="28" fill="#e3e9ec" stroke="#b7bfc5" stroke-width="1"/>
<path d="M71.5 31V59M189.5 31V59" stroke="#b7bfc5" stroke-width="1"/>
<rect x="5" y="37" width="8.8" height="16.6" fill="#5fc45a"/><rect x="13.8" y="37" width="8" height="16.6" fill="#df615d"/>
<text transform="translate(27.4 53.2) scale(1 1.06)" font-size="19" fill="#000" stroke="#000" stroke-width="0.4">Price</text>
<rect x="76.2" y="37" width="16.6" height="16.6" fill="#f5143c"/>
<text transform="translate(97.8 53.2) scale(1 1.06)" font-size="19" fill="#000" stroke="#000" stroke-width="0.4">SMA (200)</text>
<rect x="194.4" y="37" width="16.6" height="16.6" fill="#ff9510"/>
<text transform="translate(215.8 53.2) scale(1 1.06)" font-size="19" fill="#000" stroke="#000" stroke-width="0.4">SMA (55)</text>
<rect x="0.5" y="548" width="89" height="28.3" fill="#e3e9ec" stroke="#b7bfc5" stroke-width="1"/>
<rect x="5" y="554.4" width="16.6" height="16.6" fill="#ff9510"/>
<text transform="translate(26.6 569.6) scale(1 1.06)" font-size="19" fill="#000" stroke="#000" stroke-width="0.4">RSI (9)</text>
<rect x="0" y="0" width="1173" height="30.6" fill="url(#tb)"/>
<path d="M0 30.8H1173" stroke="#aebbc3" stroke-width="1"/>
<text transform="translate(0 23.7) scale(1 1.06)" font-size="19" font-weight="bold" fill="#000" stroke="#000" stroke-width="0.45">
<tspan x="29.7" y="0" letter-spacing="-2.20">US </tspan>
<tspan x="60.2" y="0" letter-spacing="0.53">Crude </tspan>
<tspan x="122.3" y="0" letter-spacing="-0.10">(DFB) </tspan>
<tspan x="179.6" y="0" letter-spacing="-0.52">Daily </tspan>
<tspan x="230.2" y="0" letter-spacing="0.03">7,028.4 </tspan>
<tspan x="299.7" y="0" letter-spacing="0.08">+0.31% </tspan>
<tspan x="372.0" y="0" letter-spacing="-2.10">11 </tspan>
<tspan x="397.5" y="0" letter-spacing="-0.90">Nov </tspan>
<tspan x="438.8" y="0" letter-spacing="0.15">2024, </tspan>
<tspan x="493.0" y="0" letter-spacing="0.47">09:00:13 </tspan>
</text>
<g><path d="M9.5 13.5V18M14.5 11.5V18M19.7 9.3V18" stroke="#4a9ad8" stroke-width="1"/>
<rect x="8.4" y="14.3" width="2.2" height="3" fill="#9fd0f5" stroke="#3f8fd0" stroke-width="0.6"/><rect x="13.3" y="12.3" width="2.4" height="4.4" fill="#9fd0f5" stroke="#3f8fd0" stroke-width="0.6"/><rect x="18.5" y="10.3" width="2.4" height="5.6" fill="#9fd0f5" stroke="#3f8fd0" stroke-width="0.6"/>
<rect x="3" y="17.9" width="22" height="6.9" rx="0.8" fill="#0b1f3f"/>
<text x="14" y="23.8" font-size="6.6" font-weight="bold" fill="#8fc8f5" text-anchor="middle" textLength="19" lengthAdjust="spacingAndGlyphs">DEMO</text></g>
<path d="M0.6 0V660" stroke="#9aa0a5" stroke-width="1.4"/>
<path d="M0 0.4H1173" stroke="#a5acb1" stroke-width="0.9"/>
<path d="M0 659.3H1173" stroke="#a0a4a8" stroke-width="1.4"/>
<path d="M1172.3 0V660" stroke="#b4bfc6" stroke-width="1.5"/>
</svg>
</body></html>
